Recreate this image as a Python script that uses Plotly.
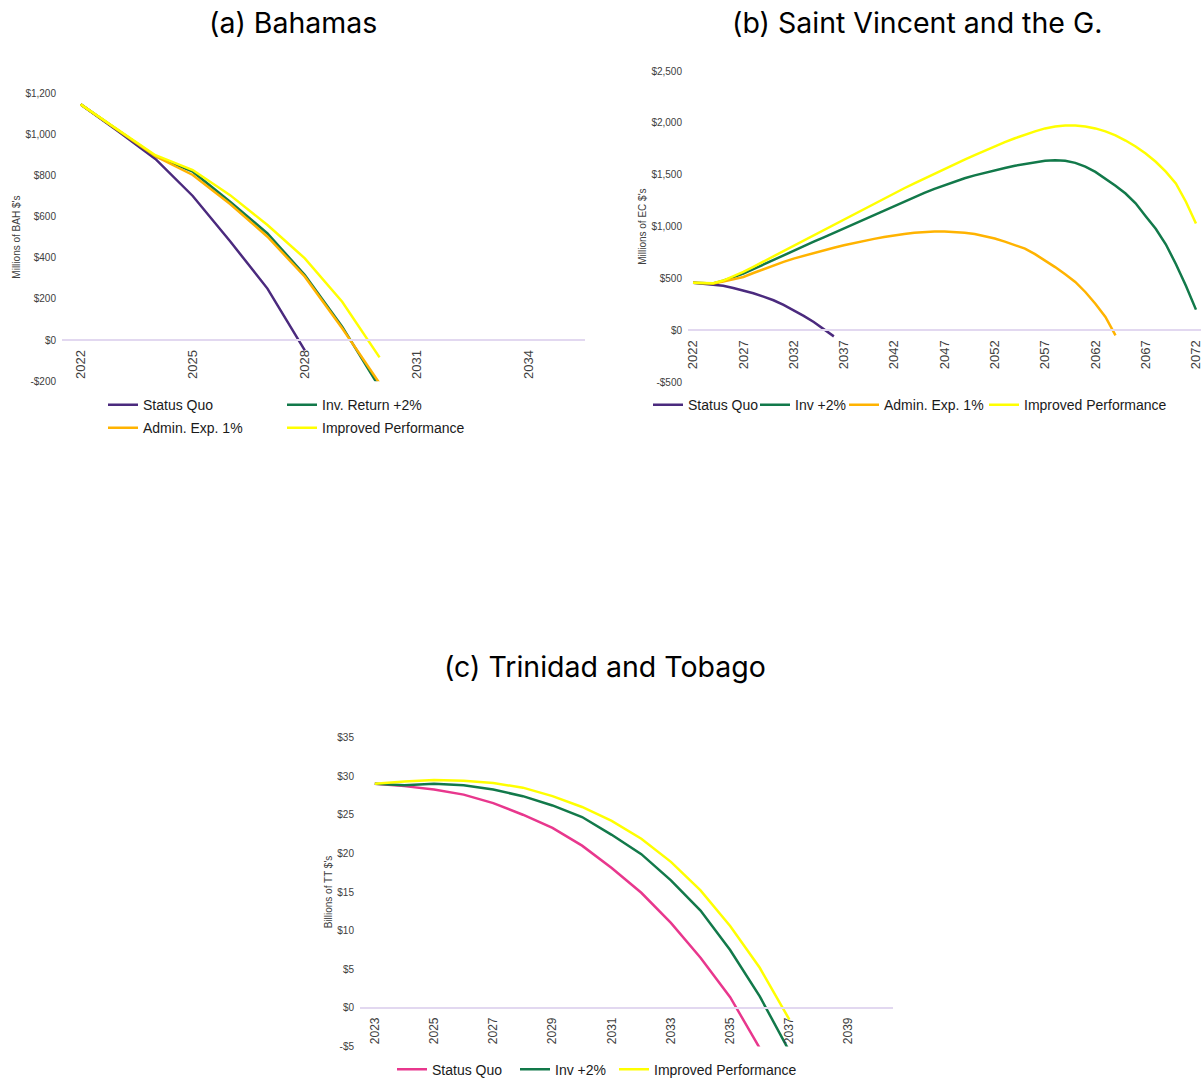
import plotly.graph_objects as go

W, H = 1204, 1086
SY = 1.008  # vertical compensation for the capture


def py(y):
    return y * SY


# ---------------- data ----------------
# (a) Bahamas, millions of BAH $
bah_years = [2022, 2023, 2024, 2025, 2026, 2027, 2028, 2029, 2030]
bah_status_quo = [1145, 1015, 880, 700, 480, 250, -50]
bah_inv_return = [1145, 1020, 893, 818, 672, 518, 316, 65, -230]
bah_admin_exp = [1145, 1020, 893, 802, 661, 502, 308, 57, -210]
bah_improved = [1145, 1020, 898, 826, 704, 559, 397, 186, -84]

# (b) Saint Vincent and the Grenadines, millions of EC $
svg_years = list(range(2022, 2073))
svg_status_quo = [460, 452, 444, 430, 408, 386, 358, 325, 290, 245, 195, 140, 80, 15, -58]
svg_inv = [460, 455, 452, 478, 510, 547, 590, 635, 680, 725, 770, 812, 855, 897, 940,
           981, 1025, 1070, 1115, 1158, 1200, 1243, 1285, 1325, 1364, 1400, 1434, 1466,
           1494, 1520, 1544, 1566, 1587, 1605, 1622, 1635, 1640, 1635, 1615, 1578, 1528,
           1465, 1395, 1319, 1225, 1100, 980, 830, 640, 430, 200]
svg_admin_exp = [460, 455, 452, 472, 495, 515, 553, 590, 625, 660, 692, 720, 747, 773,
                 797, 820, 842, 862, 882, 900, 917, 930, 940, 948, 953, 952, 948, 940,
                 928, 910, 885, 855, 822, 788, 735, 676, 610, 540, 467, 370, 257, 129, -48]
svg_improved = [460, 456, 455, 480, 520, 563, 613, 664, 715, 766, 817, 868, 919, 970,
                1020, 1071, 1121, 1171, 1222, 1272, 1322, 1370, 1418, 1465, 1512, 1558,
                1603, 1647, 1690, 1733, 1776, 1815, 1852, 1887, 1918, 1947, 1965, 1975,
                1975, 1965, 1947, 1918, 1880, 1830, 1772, 1705, 1625, 1530, 1416, 1240, 1030]

# (c) Trinidad and Tobago, billions of TT $
tt_years = list(range(2023, 2041))
tt_status_quo = [29.0, 28.7, 28.25, 27.6, 26.5, 25.0, 23.3, 21.0, 18.1, 14.9, 11.0, 6.5, 1.4, -5.2]
tt_inv = [29.0, 28.8, 29.0, 28.8, 28.25, 27.4, 26.2, 24.7, 22.4, 19.9, 16.5, 12.6, 7.5, 1.5, -5.6]
tt_improved = [29.0, 29.3, 29.5, 29.4, 29.1, 28.5, 27.4, 26.0, 24.2, 21.9, 18.9, 15.2, 10.6, 5.2, -1.5]

# axis ticks
bah_xticks = [2022, 2025, 2028, 2031, 2034]
bah_yticks = [-200, 0, 200, 400, 600, 800, 1000, 1200]
svg_xticks = list(range(2022, 2073, 5))
svg_yticks = [-500, 0, 500, 1000, 1500, 2000, 2500]
tt_xticks = list(range(2023, 2041, 2))
tt_yticks = [-5, 0, 5, 10, 15, 20, 25, 30, 35]

titles = ["(a) Bahamas", "(b) Saint Vincent and the G.", "(c) Trinidad and Tobago"]
ytitles = ["Millions of BAH $'s", "Millions of EC $'s", "Billions of TT $'s"]

# ---------------- style ----------------
PURPLE = "#4B2A7E"
GREEN = "#12794A"
ORANGE = "#FFB300"
YELLOW = "#FFFF00"
PINK = "#E8378D"
AXIS = "#E2D8F0"
TICKC = "#404040"
FONT = "Liberation Sans, Arial, sans-serif"
TFONT = "Inter, Noto Sans, sans-serif"
LW = 2.5


def money(v):
    return f"-${abs(v):,}" if v < 0 else f"${v:,}"


fig = go.Figure()

# legend placement: (text start x px, text centre y px)
legend_pos = {}


def add(name, xs, ys, color, ax, leg, tx, ty):
    fig.add_trace(go.Scatter(x=xs[:len(ys)], y=ys, mode="lines", name=name,
                             line=dict(color=color, width=LW),
                             xaxis=ax[0], yaxis=ax[1], legend=leg, showlegend=True))
    legend_pos[leg] = (tx, ty)


add("Status Quo", bah_years, bah_status_quo, PURPLE, ("x", "y"), "legend", 143, 405)
add("Inv. Return +2%", bah_years, bah_inv_return, GREEN, ("x", "y"), "legend2", 322, 405)
add("Admin. Exp. 1%", bah_years, bah_admin_exp, ORANGE, ("x", "y"), "legend3", 143, 428)
add("Improved Performance", bah_years, bah_improved, YELLOW, ("x", "y"), "legend4", 322, 428)

add("Status Quo", svg_years, svg_status_quo, PURPLE, ("x2", "y2"), "legend5", 688, 405)
add("Inv +2%", svg_years, svg_inv, GREEN, ("x2", "y2"), "legend6", 795, 405)
add("Admin. Exp. 1%", svg_years, svg_admin_exp, ORANGE, ("x2", "y2"), "legend7", 884, 405)
add("Improved Performance", svg_years, svg_improved, YELLOW, ("x2", "y2"), "legend8", 1024, 405)

add("Status Quo", tt_years, tt_status_quo, PINK, ("x3", "y3"), "legend9", 432, 1069)
add("Inv +2%", tt_years, tt_inv, GREEN, ("x3", "y3"), "legend10", 555, 1069)
add("Improved Performance", tt_years, tt_improved, YELLOW, ("x3", "y3"), "legend11", 654, 1069)

layout = dict(width=W, height=H, margin=dict(l=0, r=0, t=0, b=0),
              paper_bgcolor="white", plot_bgcolor="white", showlegend=True)

for leg, (tx, ty) in legend_pos.items():
    layout[leg] = dict(x=(tx - 40) / W, y=1 - py(ty) / H, xanchor="left", yanchor="middle",
                       orientation="h", bgcolor="rgba(0,0,0,0)", borderwidth=0,
                       font=dict(family=FONT, size=14, color="#1a1a1a"),
                       traceorder="normal")

# panel geometry in pixels: (left, right, top, bottom)
panels = [
    ("", (62, 585, 93, 381), (2021.5, 2035.5), (-200, 1200), bah_xticks, bah_yticks, 13),
    ("2", (688, 1201, 71, 382), (2021.5, 2072.5), (-500, 2500), svg_xticks, svg_yticks, 13),
    ("3", (360, 893, 737, 1046), (2022.5, 2040.5), (-5, 35), tt_xticks, tt_yticks, 12),
]

for i, (sfx, (l, r, t, b), xr, yr, xt, yt, xfs) in enumerate(panels):
    ydom = [1 - py(b) / H, 1 - py(t) / H]
    zero_pos = ydom[0] + (0 - yr[0]) / (yr[1] - yr[0]) * (ydom[1] - ydom[0])
    layout["xaxis" + sfx] = dict(domain=[l / W, r / W], range=list(xr), anchor="free",
                                 position=zero_pos, showgrid=False, zeroline=False,
                                 showline=True, linecolor=AXIS, linewidth=1.5,
                                 tickmode="array", tickvals=xt, ticktext=[str(v) for v in xt],
                                 tickangle=-90, ticks="", automargin=False,
                                 tickfont=dict(family=FONT, size=xfs, color=TICKC),
                                 ticklabelstandoff=4)
    layout["yaxis" + sfx] = dict(domain=ydom, range=list(yr), anchor="x" + sfx,
                                 showgrid=False, zeroline=False, showline=False,
                                 tickmode="array", tickvals=yt, ticktext=[money(v) for v in yt],
                                 ticks="", automargin=False, ticklabelstandoff=5,
                                 tickfont=dict(family=FONT, size=10, color=TICKC),
                                 title=dict(text=ytitles[i], standoff=2,
                                            font=dict(family=FONT, size=10, color=TICKC)))

fig.update_layout(**layout)

title_pos = [(293, 22), (917, 22), (605, 666)]
for txt, (cx, cy) in zip(titles, title_pos):
    fig.add_annotation(text=txt, x=cx / W, y=1 - py(cy) / H, xref="paper", yref="paper",
                       xanchor="center", yanchor="middle", showarrow=False,
                       font=dict(family=TFONT, size=28.5, color="#000000"))

fig.write_html(
    "out.html",
    config={"displayModeBar": False},
    post_script=(
        "document.documentElement.style.margin='0';"
        "document.documentElement.style.overflow='hidden';"
        "document.body.style.margin='0';"
        "document.body.style.padding='0';"
        "document.body.style.overflow='hidden';"
    ),
)
